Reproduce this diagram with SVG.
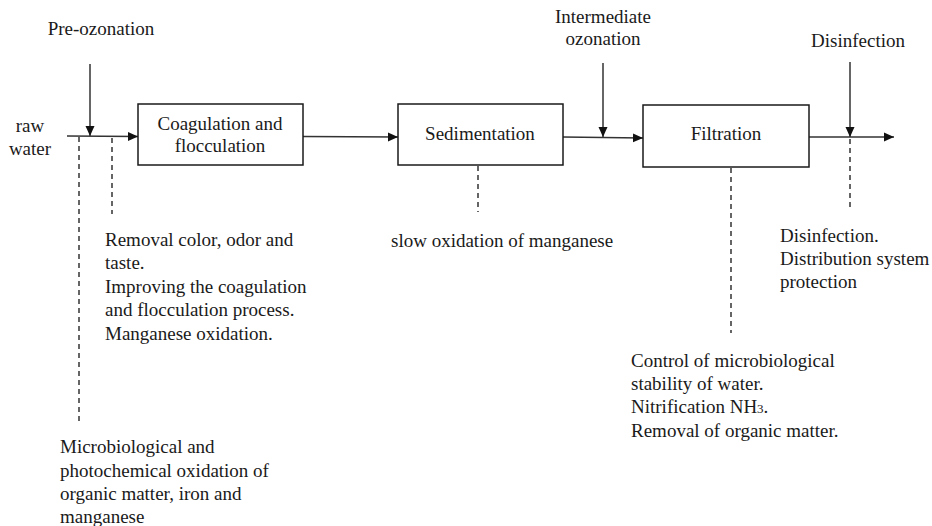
<svg xmlns="http://www.w3.org/2000/svg" width="932" height="526" viewBox="0 0 932 526" font-family="Liberation Serif, Times New Roman, serif">
<style>
text{font-size:19px;fill:#1a1a1a}
.box{fill:#fff;stroke:#1a1a1a;stroke-width:1.5}
.ln{stroke:#333;stroke-width:1.5;fill:none}
.ds{stroke:#333;stroke-width:1.5;fill:none;stroke-dasharray:5 4}
.mid{text-anchor:middle}
</style>
<defs>
<marker id="ah" markerWidth="10" markerHeight="10" viewBox="0 0 10 10" refX="10" refY="5" orient="auto" markerUnits="userSpaceOnUse">
<path d="M0,0.5 L10,5 L0,9.5 Z" fill="#111"/>
</marker>
</defs>
<rect width="932" height="526" fill="#fff"/>

<g id="connectors">
<line class="ln" x1="90" y1="64" x2="90" y2="136" marker-end="url(#ah)"/>
<line class="ln" x1="67" y1="136" x2="138" y2="136.5" marker-end="url(#ah)"/>
<line class="ln" x1="303" y1="136.5" x2="398" y2="137" marker-end="url(#ah)"/>
<line class="ln" x1="603" y1="63" x2="603" y2="137" marker-end="url(#ah)"/>
<line class="ln" x1="563" y1="137" x2="643" y2="138" marker-end="url(#ah)"/>
<line class="ln" x1="850" y1="62" x2="850" y2="137" marker-end="url(#ah)"/>
<line class="ln" x1="809" y1="137" x2="894" y2="137" marker-end="url(#ah)"/>
<line class="ds" x1="79" y1="137" x2="79" y2="422"/>
<line class="ds" x1="112" y1="138" x2="112" y2="214"/>
<line class="ds" x1="478" y1="166" x2="478" y2="212"/>
<line class="ds" x1="731" y1="168" x2="731" y2="333"/>
<line class="ds" x1="850" y1="139" x2="850" y2="207"/>
</g>

<g id="raw-water">
<text x="30" y="131.5" class="mid">raw</text>
<text x="30" y="155" class="mid">water</text>
</g>
<g id="pre-ozonation">
<text x="101" y="35" class="mid">Pre-ozonation</text>
</g>
<g id="coagulation">
<rect class="box" x="138" y="104" width="165" height="61"/>
<text x="220" y="129.5" class="mid">Coagulation and</text>
<text x="220" y="152" class="mid">flocculation</text>
</g>
<g id="sedimentation">
<rect class="box" x="398" y="104" width="165" height="61"/>
<text x="480" y="139.5" class="mid">Sedimentation</text>
</g>
<g id="intermediate-ozonation">
<text x="603" y="22.5" class="mid">Intermediate</text>
<text x="603" y="45" class="mid">ozonation</text>
</g>
<g id="filtration">
<rect class="box" x="643" y="105" width="166" height="62"/>
<text x="726" y="140" class="mid">Filtration</text>
</g>
<g id="disinfection">
<text x="858" y="47" class="mid">Disinfection</text>
</g>

<g id="note-preozonation">
<text x="105" y="245.5">Removal color, odor and</text>
<text x="105" y="269">taste.</text>
<text x="105" y="292.5">Improving the coagulation</text>
<text x="105" y="316">and flocculation process.</text>
<text x="105" y="339.5">Manganese oxidation.</text>
</g>
<g id="note-rawwater">
<text x="60" y="453">Microbiological and</text>
<text x="60" y="476.5">photochemical oxidation of</text>
<text x="60" y="500">organic matter, iron and</text>
<text x="60" y="523">manganese</text>
</g>
<g id="note-sedimentation">
<text x="391" y="246.5">slow oxidation of manganese</text>
</g>
<g id="note-filtration">
<text x="631" y="366.5">Control of microbiological</text>
<text x="631" y="389.5">stability of water.</text>
<text x="631" y="413">Nitrification NH<tspan font-size="13">3</tspan>.</text>
<text x="631" y="436.5">Removal of organic matter.</text>
</g>
<g id="note-disinfection">
<text x="780" y="242">Disinfection.</text>
<text x="780" y="265">Distribution system</text>
<text x="780" y="287.5">protection</text>
</g>
</svg>
